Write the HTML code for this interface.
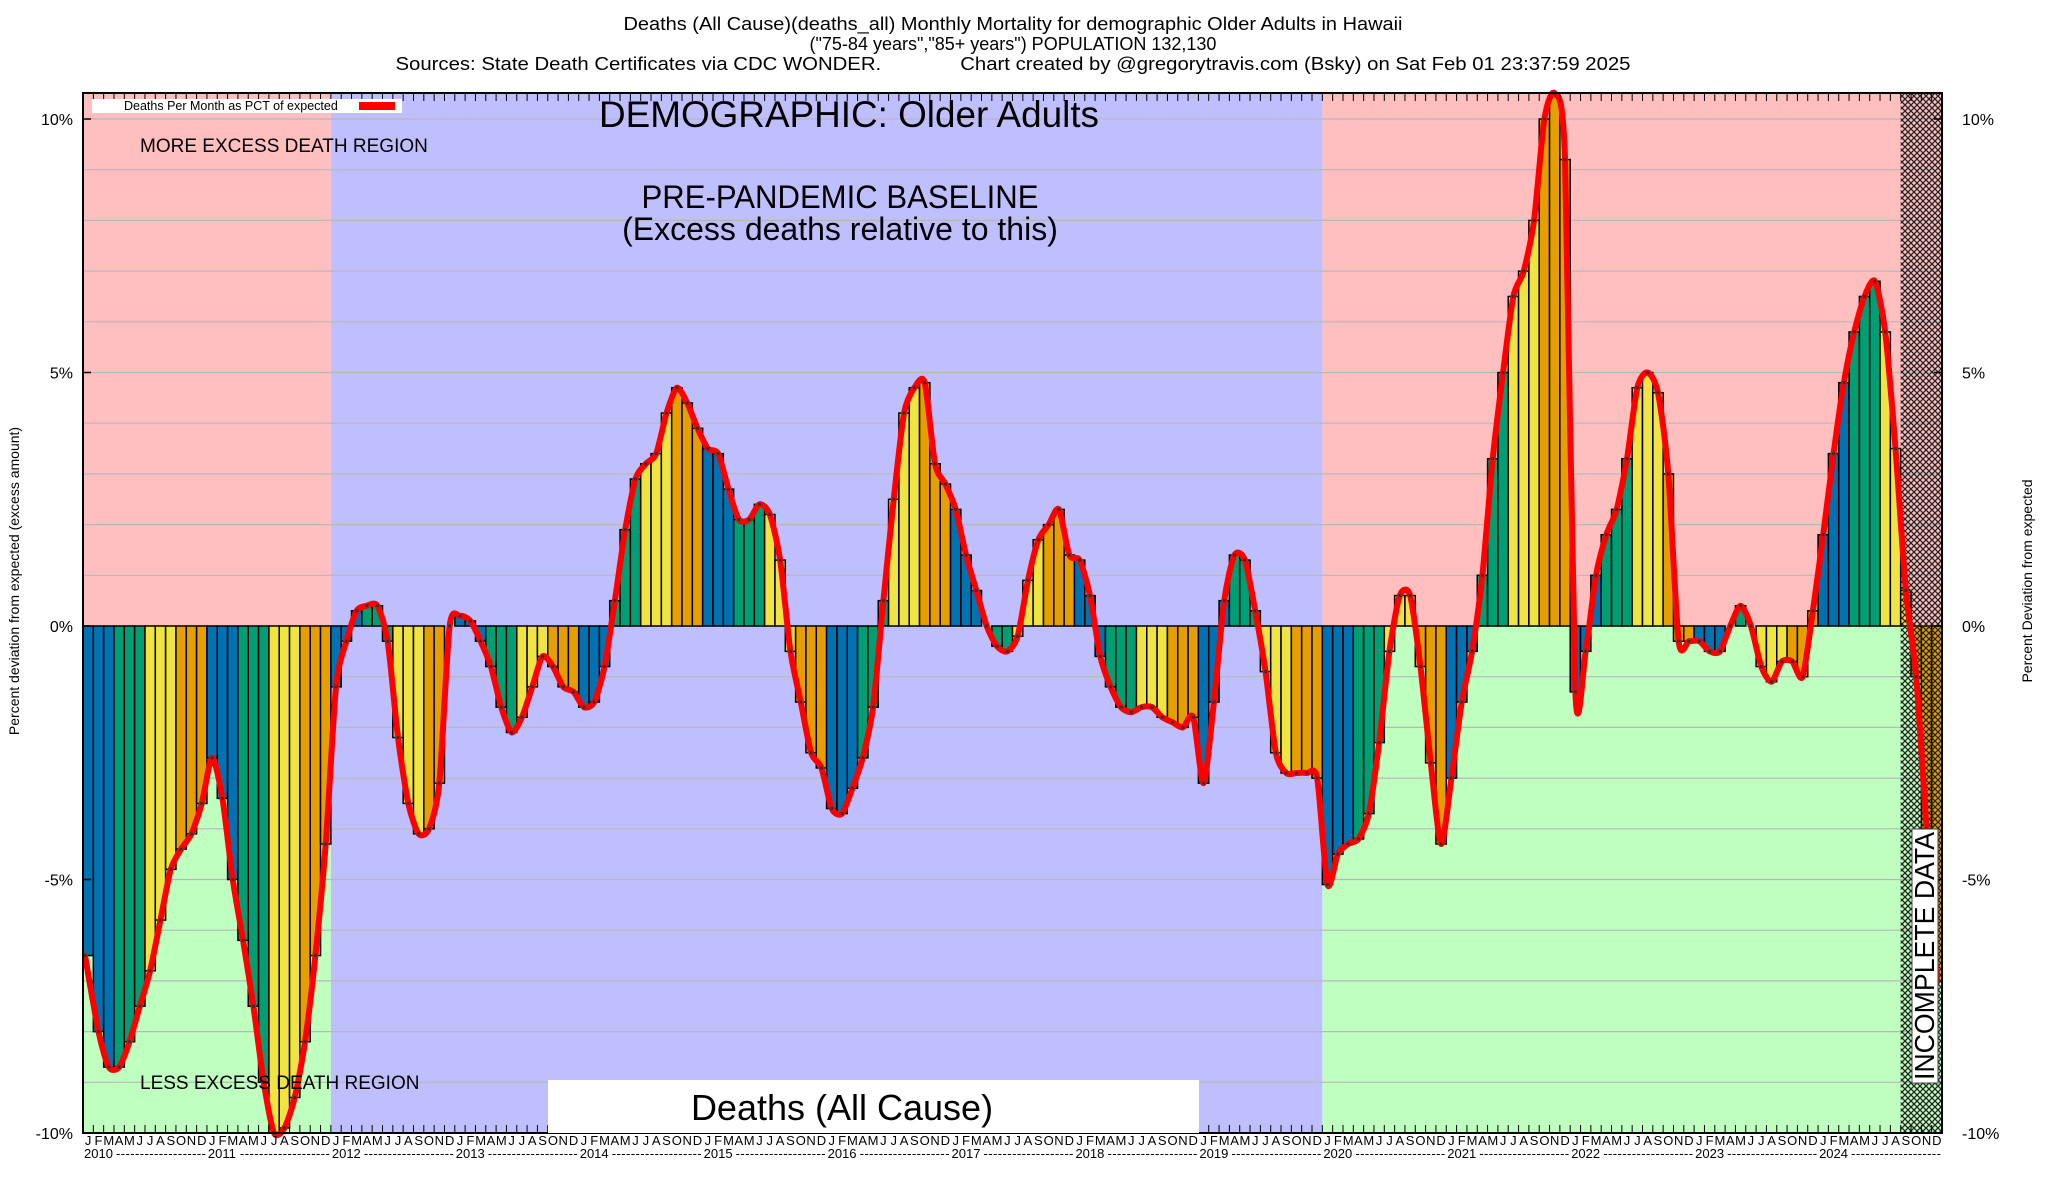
<!DOCTYPE html>
<html><head><meta charset="utf-8"><style>
html,body{margin:0;padding:0;background:#fff}
svg{display:block;font-family:"Liberation Sans",sans-serif}
</style></head><body>
<svg id="chart" width="2048" height="1200" viewBox="0 0 2048 1200">
<defs>
<pattern id="hatch" width="6" height="6" patternUnits="userSpaceOnUse">
<path d="M0,0L6,6M6,0L0,6" stroke="#222" stroke-width="1.3"/>
</pattern>
</defs>
<g id="bg"></g>
<g id="grid"></g>
<g id="bars"></g>
<g id="hatchg"></g>
<g id="line"></g>
<g id="axes"></g>
<text x="1013" y="30" font-size="18" text-anchor="middle" textLength="779" lengthAdjust="spacingAndGlyphs">Deaths (All Cause)(deaths_all) Monthly Mortality for demographic Older Adults in Hawaii</text>
<text x="1013" y="50" font-size="18" text-anchor="middle">("75-84 years","85+ years") POPULATION 132,130</text>
<text x="1013" y="70" font-size="18" text-anchor="middle" xml:space="preserve" textLength="1235" lengthAdjust="spacingAndGlyphs">Sources: State Death Certificates via CDC WONDER.              Chart created by @gregorytravis.com (Bsky) on Sat Feb 01 23:37:59 2025</text>
<g>
<rect x="92" y="99" width="310" height="14" fill="#fff"/>
<text x="124" y="110" font-size="12.5">Deaths Per Month as PCT of expected</text>
<rect x="359" y="102" width="36" height="8" fill="#f00"/>
</g>
<text x="849" y="127" font-size="37" text-anchor="middle" textLength="500" lengthAdjust="spacingAndGlyphs">DEMOGRAPHIC: Older Adults</text>
<text x="840" y="208" font-size="32" text-anchor="middle" textLength="397" lengthAdjust="spacingAndGlyphs">PRE-PANDEMIC BASELINE</text>
<text x="840" y="240" font-size="32" text-anchor="middle">(Excess deaths relative to this)</text>
<text x="140" y="152" font-size="19">MORE EXCESS DEATH REGION</text>
<text x="140" y="1089" font-size="19">LESS EXCESS DEATH REGION</text>
<rect x="548" y="1080" width="651" height="53" fill="#fff"/>
<text x="842" y="1120" font-size="36" text-anchor="middle">Deaths (All Cause)</text>
<rect x="1912" y="829" width="26" height="254" fill="#fff" stroke="#444" stroke-width="1"/>
<text transform="translate(1934,956) rotate(-90)" font-size="28" text-anchor="middle" textLength="248" lengthAdjust="spacingAndGlyphs">INCOMPLETE DATA</text>
<text transform="translate(19,581) rotate(-90)" font-size="14" text-anchor="middle">Percent deviation from expected (excess amount)</text>
<text transform="translate(2032,581) rotate(-90)" font-size="14" text-anchor="middle">Percent Deviation from expected</text>
</svg>
<script>
const years = [2010,2011,2012,2013,2014,2015,2016,2017,2018,2019,2020,2021,2022,2023,2024];
const monthLetters = ["J","F","M","A","M","J","J","A","S","O","N","D"];
const yTicks = [-10,-5,0,5,10];
const values = [
-6.5,-8.0,-8.7,-8.7,-8.2,-7.5,-6.8,-5.8,-4.8,-4.4,-4.1,-3.5,
-2.6,-3.4,-5.0,-6.2,-7.5,-9.0,-10.0,-9.9,-9.3,-8.2,-6.5,-4.3,
-1.2,-0.3,0.3,0.4,0.4,-0.3,-2.2,-3.5,-4.1,-4.0,-3.1,0.0,
0.2,0.1,-0.3,-0.8,-1.6,-2.1,-1.8,-1.2,-0.6,-0.8,-1.2,-1.3,
-1.6,-1.5,-0.8,0.5,1.9,2.9,3.2,3.4,4.2,4.7,4.4,3.9,
3.5,3.4,2.7,2.1,2.1,2.4,2.2,1.3,-0.5,-1.5,-2.5,-2.8,
-3.6,-3.7,-3.2,-2.6,-1.6,0.5,2.5,4.2,4.7,4.8,3.2,2.8,
2.3,1.4,0.7,0.0,-0.4,-0.5,-0.2,0.9,1.7,2.0,2.3,1.4,
1.3,0.6,-0.6,-1.2,-1.6,-1.7,-1.6,-1.6,-1.8,-1.9,-2.0,-1.8,
-3.1,-1.5,0.5,1.4,1.3,0.3,-0.9,-2.5,-2.9,-2.9,-2.9,-3.0,
-5.1,-4.5,-4.3,-4.2,-3.7,-2.3,-0.5,0.6,0.6,-0.8,-2.7,-4.3,
-3.0,-1.5,-0.5,1.0,3.3,5.0,6.5,7.0,8.0,10.0,10.5,9.2,
-1.3,-0.5,1.0,1.8,2.3,3.3,4.7,5.0,4.6,3.0,-0.3,-0.3,
-0.3,-0.5,-0.5,0.0,0.4,0.0,-0.8,-1.1,-0.7,-0.7,-1.0,0.3,
1.8,3.4,4.8,5.8,6.5,6.8,5.8,3.5,0.7,-1.0,-4.0,-7.0];
const incompleteMonths = 4;

const L=83,R=1942,T=93,B=1133;
const N=values.length;
const bw=(R-L)/N;
const x=i=>L+i*bw;
const xc=i=>L+(i+0.5)*bw;
const y=v=>626-v*50.7;
const NS="http://www.w3.org/2000/svg";
function mk(tag,attrs,parent){const e=document.createElementNS(NS,tag);for(const k in attrs)e.setAttribute(k,attrs[k]);parent.appendChild(e);return e;}
const bg=document.getElementById('bg'),grid=document.getElementById('grid'),bars=document.getElementById('bars'),hg=document.getElementById('hatchg'),lg=document.getElementById('line'),ax=document.getElementById('axes');

const zero=y(0);
[[0,24],[120,N]].forEach(([a,b])=>{
 let r=mk('rect',{x:x(a),y:T,width:x(b)-x(a),height:zero-T,fill:'#ffbfbf'},bg);
 
 
 r=mk('rect',{x:x(a),y:zero,width:x(b)-x(a),height:B-zero,fill:'#bfffbf'},bg);
 
 
});
let br=mk('rect',{x:x(24),y:T,width:x(120)-x(24),height:B-T,fill:'#bfbfff'},bg);



for(let v=-9;v<=10;v++){
 const g=mk('line',{x1:L,x2:R,y1:y(v),y2:y(v),stroke:'#b8b8b8','stroke-width':1.2},grid);
 
 
}

const cols=['#0072b2','#009e73','#f0e442','#e69f00'];
values.forEach((v,i)=>{
 const q=Math.floor((i%12)/3);
 const top=Math.min(y(v),zero),h=Math.abs(y(v)-zero);
 const b=mk('rect',{x:x(i),y:top,width:bw,height:h,fill:cols[q],stroke:'#000','stroke-width':1.5},bars);
 
 
});

const hx=x(N-incompleteMonths);
const hr=mk('rect',{x:hx,y:T,width:R-hx,height:B-T,fill:'url(#hatch)'},hg);



const pts=values.map((v,i)=>[xc(i),y(v)]);
pts[0][0]=L+2;
let d='M'+pts[0][0]+','+pts[0][1];
for(let i=0;i<pts.length-1;i++){
 const p0=pts[Math.max(0,i-1)],p1=pts[i],p2=pts[i+1],p3=pts[Math.min(pts.length-1,i+2)];
 const c1=[p1[0]+(p2[0]-p0[0])/8,p1[1]+(p2[1]-p0[1])/8];
 const c2=[p2[0]-(p3[0]-p1[0])/8,p2[1]-(p3[1]-p1[1])/8];
 d+='C'+c1[0]+','+c1[1]+' '+c2[0]+','+c2[1]+' '+p2[0]+','+p2[1];
}
const pl=mk('path',{d:d,fill:'none',stroke:'#f00','stroke-width':6,'stroke-linejoin':'round','stroke-linecap':'round'},lg);


pts.forEach(p=>{
 const m=mk('rect',{x:p[0]-1.5,y:p[1]-1.5,width:3,height:3,fill:'#333'},lg);
 
 
});

const fr=mk('rect',{x:L,y:T,width:R-L,height:B-T,fill:'none',stroke:'#000','stroke-width':2},ax);


for(let i=0;i<=N;i++){
 const t1=mk('line',{x1:x(i),x2:x(i),y1:T,y2:T+8,stroke:'#000','stroke-width':1},ax);
 
 
 const t2=mk('line',{x1:x(i),x2:x(i),y1:B,y2:B-8,stroke:'#000','stroke-width':1},ax);
 
 
}
yTicks.forEach(v=>{
 const a=mk('line',{x1:L,x2:L+8,y1:y(v),y2:y(v),stroke:'#000','stroke-width':1.5},ax);
 
 
 const b=mk('line',{x1:R-8,x2:R,y1:y(v),y2:y(v),stroke:'#000','stroke-width':1.5},ax);
 
 
 const t=mk('text',{x:L-10,y:y(v)+6,'font-size':16,'text-anchor':'end'},ax);
 t.textContent=v+'%';
 
 
 const t3=mk('text',{x:R+20,y:y(v)+6,'font-size':16},ax);
 t3.textContent=v+'%';
 
 
});
values.forEach((v,i)=>{
 const t=mk('text',{x:xc(i),y:1145,'font-size':13,'text-anchor':'middle'},ax);
 t.textContent=monthLetters[i%12];
 
 
});
years.forEach((yr,k)=>{
 const x0=x(k*12)+1;
 const t=mk('text',{x:x0,y:1158,'font-size':13},ax);
 t.textContent=yr;
 
 
 const dsh=mk('text',{x:x0+32,y:1158,'font-size':13,textLength:12*bw-34,lengthAdjust:'spacing'},ax);
 dsh.textContent='-------------------';
 
 
});
</script>
</body></html>
